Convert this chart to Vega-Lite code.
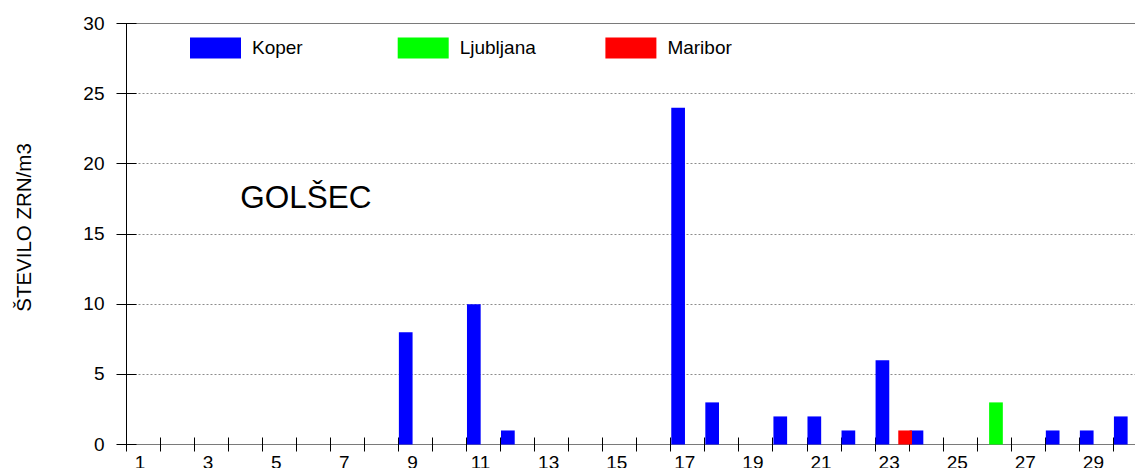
{
  "$schema": "https://vega.github.io/schema/vega-lite/v6.json",
  "width": 1008.5,
  "height": 421,
  "autosize": {"type": "none"},
  "padding": {"left": 126.5, "top": 23.5, "right": 0, "bottom": 23.5},
  "background": "white",
  "config": {
    "view": {"stroke": null},
    "font": "Liberation Sans",
    "axis": {"translate": 0}
  },
  "data": {
    "values": [
      {"day": 9, "city": "Koper", "value": 8},
      {"day": 11, "city": "Koper", "value": 10},
      {"day": 12, "city": "Koper", "value": 1},
      {"day": 17, "city": "Koper", "value": 24},
      {"day": 18, "city": "Koper", "value": 3},
      {"day": 20, "city": "Koper", "value": 2},
      {"day": 21, "city": "Koper", "value": 2},
      {"day": 22, "city": "Koper", "value": 1},
      {"day": 23, "city": "Koper", "value": 6},
      {"day": 24, "city": "Koper", "value": 1},
      {"day": 28, "city": "Koper", "value": 1},
      {"day": 29, "city": "Koper", "value": 1},
      {"day": 30, "city": "Koper", "value": 2},
      {"day": 26, "city": "Ljubljana", "value": 3},
      {"day": 23, "city": "Maribor", "value": 1}
    ]
  },
  "layer": [
    {
      "transform": [{"filter": "datum.city == 'Koper'"}],
      "mark": {"type": "bar", "width": 13.7, "xOffset": -10.2},
      "encoding": {
        "x": {
          "field": "day", "type": "ordinal",
          "scale": {"type": "band", "domain": [1,2,3,4,5,6,7,8,9,10,11,12,13,14,15,16,17,18,19,20,21,22,23,24,25,26,27,28,29,30], "paddingInner": 0, "paddingOuter": 0, "range": [0, 1021.5]},
          "axis": {
            "title": null,
            "bandPosition": 0,
            "offset": -7,
            "tickSize": 14,
            "tickColor": "black",
            "domain": false,
            "labelExpr": "datum.value % 2 == 1 ? datum.label : ''",
            "labelOffset": -3,
            "labelPadding": 2,
            "labelFontSize": 19,
            "labelColor": "black",
            "labelAngle": 0,
            "labelOverlap": false,
            "labelFlush": false,
            "grid": true,
            "gridColor": "black",
            "gridDash": [],
            "gridOpacity": {"condition": {"test": "datum.value == 1", "value": 1}, "value": 0}
          }
        },
        "y": {
          "field": "value", "type": "quantitative",
          "scale": {"domain": [0, 30], "nice": false},
          "axis": {
            "title": "ŠTEVILO ZRN/m3",
            "titleFontSize": 20.5,
            "titleFontWeight": "normal",
            "titleColor": "black",
            "titlePadding": 48,
            "titleY": 204,
            "values": [0, 5, 10, 15, 20, 25, 30],
            "offset": -10,
            "tickSize": 20,
            "tickColor": "black",
            "domain": false,
            "labelFontSize": 19,
            "labelColor": "black",
            "labelPadding": 12,
            "grid": true,
            "gridColor": {"condition": {"test": "datum.value == 0 || datum.value == 30", "value": "#7a7a7a"}, "value": "#8c8c8c"},
            "gridDash": {"condition": {"test": "datum.value == 0 || datum.value == 30", "value": []}, "value": [2, 2]}
          }
        },
        "color": {
          "field": "city", "type": "nominal",
          "scale": {"domain": ["Koper", "Ljubljana", "Maribor"], "range": ["#0000ff", "#00ff00", "#ff0000"]},
          "legend": {
            "orient": "none",
            "legendX": 63.5,
            "legendY": -1,
            "direction": "horizontal",
            "columns": 3,
            "gridAlign": "all",
            "columnPadding": 68.7,
            "title": null,
            "padding": 0,
            "symbolType": "M-1,-0.41H1V0.41H-1Z",
            "symbolSize": 2601,
            "symbolStrokeWidth": 0,
            "symbolOpacity": 1,
            "labelFontSize": 19,
            "labelOffset": 11,
            "labelColor": "black"
          }
        }
      }
    },
    {
      "transform": [{"filter": "datum.city == 'Ljubljana'"}],
      "mark": {"type": "bar", "width": 13.7, "xOffset": 1.2},
      "encoding": {
        "x": {"field": "day", "type": "ordinal"},
        "y": {"field": "value", "type": "quantitative"},
        "color": {"field": "city", "type": "nominal"}
      }
    },
    {
      "transform": [{"filter": "datum.city == 'Maribor'"}],
      "mark": {"type": "bar", "width": 13.7, "xOffset": 12.5},
      "encoding": {
        "x": {"field": "day", "type": "ordinal"},
        "y": {"field": "value", "type": "quantitative"},
        "color": {"field": "city", "type": "nominal"}
      }
    },
    {
      "data": {"values": [{"label": "GOLŠEC", "day": 4, "value": 16.83}]},
      "mark": {"type": "text", "align": "left", "baseline": "alphabetic", "fontSize": 31.5, "dx": 11.5, "color": "black"},
      "encoding": {
        "x": {"field": "day", "type": "ordinal", "bandPosition": 0},
        "y": {"field": "value", "type": "quantitative"},
        "text": {"field": "label"}
      }
    }
  ]
}
